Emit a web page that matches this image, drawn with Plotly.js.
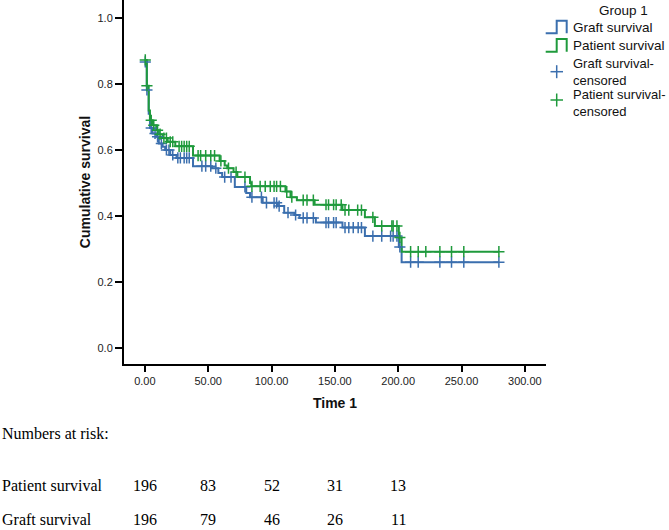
<!DOCTYPE html>
<html>
<head>
<meta charset="utf-8">
<script src="https://cdn.plot.ly/plotly-3.0.1.min.js"></script>
<style>
html,body{margin:0;padding:0;background:#fff;}
#chart{width:669px;height:530px;}
</style>
</head>
<body>
<div id="chart"></div>
<script>
// Kaplan-Meier step data (time, cumulative survival after the step)
var patientTimes = [0, 1.5, 3, 4, 6, 9, 11, 14, 18, 24, 38, 59, 63, 65, 70, 73, 83, 84, 111, 115, 120, 134, 156, 173.7, 181.6, 200.5, 202.7, 279.5];
var patientSurv  = [0.873, 0.795, 0.72, 0.69, 0.675, 0.66, 0.648, 0.636, 0.625, 0.611, 0.583, 0.567, 0.553, 0.545, 0.533, 0.518, 0.50, 0.49, 0.474, 0.457, 0.448, 0.434, 0.418, 0.396, 0.370, 0.335, 0.292, 0.292];

var graftTimes = [0, 1.5, 3, 4, 6, 9, 11, 14, 16, 20, 25, 38, 53, 58, 61, 71, 80, 83, 93, 105, 110, 118, 122, 135, 156, 173.7, 200.5, 202.7, 279.5];
var graftSurv  = [0.867, 0.782, 0.71, 0.667, 0.65, 0.64, 0.62, 0.61, 0.60, 0.585, 0.576, 0.551, 0.545, 0.53, 0.518, 0.488, 0.47, 0.457, 0.44, 0.43, 0.41, 0.403, 0.394, 0.38, 0.365, 0.339, 0.306, 0.26, 0.26];

// censored observation times
var patientCensor = [0.3, 1.6, 5, 7, 10, 12, 15, 17, 20, 22, 27, 29, 31, 33, 35, 42, 44, 48, 52, 55, 60, 66, 72, 79, 84.5, 91, 95, 99, 102, 104, 107, 112, 116, 125, 128, 133, 143, 145, 149, 151, 155, 158, 161, 168, 171, 180, 187, 195, 196, 199, 201.3, 209.8, 215.8, 221.8, 232.9, 242.1, 251.8, 279.5];
var graftCensor = [0.3, 1.6, 5, 8, 10, 13, 17, 19, 22, 26, 28, 31, 33, 35, 45, 48, 52, 56, 63, 68, 79, 84.5, 92, 96, 102, 104, 106, 113, 119, 125, 128, 133, 143, 145, 149, 151, 158, 161, 164.5, 168.4, 171, 180, 187, 194, 196, 199, 201.3, 209.8, 215.8, 232.9, 242.1, 251.8, 279.5];

// numbers at risk
var riskTimes = [0, 50, 100, 150, 200];
var riskPatient = [196, 83, 52, 31, 13];
var riskGraft = [196, 79, 46, 26, 11];

var xTicks = [0, 50, 100, 150, 200, 250, 300];
var yTicks = [0, 0.2, 0.4, 0.6, 0.8, 1.0];

var blue = '#3b6fae';
var green = '#1f9a3c';

function stepAt(times, surv, t) {
  var v = surv[0];
  for (var i = 0; i < times.length; i++) {
    if (times[i] <= t) v = surv[i]; else break;
  }
  return v;
}

var traces = [
  {x: graftTimes, y: graftSurv, type: 'scatter', mode: 'lines', line: {shape: 'hv', color: blue, width: 2}, hoverinfo: 'skip', showlegend: false},
  {x: patientTimes, y: patientSurv, type: 'scatter', mode: 'lines', line: {shape: 'hv', color: green, width: 2}, hoverinfo: 'skip', showlegend: false},
  {x: graftCensor, y: graftCensor.map(function(t){return stepAt(graftTimes, graftSurv, t);}), type: 'scatter', mode: 'markers',
   marker: {symbol: 'cross-thin', size: 8, color: blue, line: {width: 1.5, color: blue}}, hoverinfo: 'skip', showlegend: false},
  {x: patientCensor, y: patientCensor.map(function(t){return stepAt(patientTimes, patientSurv, t);}), type: 'scatter', mode: 'markers',
   marker: {symbol: 'cross-thin', size: 8, color: green, line: {width: 1.5, color: green}}, hoverinfo: 'skip', showlegend: false}
];

// plot area in pixels: x 124..546, y 0..364
function px(p) { return (p - 124) / 422; }
function py(p) { return (364 - p) / 364; }

var sans = 'Liberation Sans, Arial, sans-serif';
var serif = 'Liberation Serif, Times New Roman, serif';

var annotations = [
  {text: 'Group 1', x: px(623), y: py(10), xref: 'paper', yref: 'paper', xanchor: 'center', yanchor: 'middle', showarrow: false, font: {family: sans, size: 13.5, color: '#111'}},
  {text: 'Graft survival', x: px(571), y: py(27.3), xref: 'paper', yref: 'paper', xanchor: 'left', yanchor: 'middle', showarrow: false, font: {family: sans, size: 13.5, color: '#111'}},
  {text: 'Patient survival', x: px(571), y: py(45.7), xref: 'paper', yref: 'paper', xanchor: 'left', yanchor: 'middle', showarrow: false, font: {family: sans, size: 13.5, color: '#111'}},
  {text: 'Graft survival-<br>censored', x: px(571), y: py(72.5), xref: 'paper', yref: 'paper', xanchor: 'left', yanchor: 'middle', align: 'left', showarrow: false, font: {family: sans, size: 13, color: '#111'}},
  {text: 'Patient survival-<br>censored', x: px(571), y: py(103.3), xref: 'paper', yref: 'paper', xanchor: 'left', yanchor: 'middle', align: 'left', showarrow: false, font: {family: sans, size: 13, color: '#111'}},
  {text: 'Numbers at risk:', x: px(0), y: py(433), xref: 'paper', yref: 'paper', xanchor: 'left', yanchor: 'middle', showarrow: false, font: {family: serif, size: 16, color: '#000'}},
  {text: 'Patient survival', x: px(0), y: py(486), xref: 'paper', yref: 'paper', xanchor: 'left', yanchor: 'middle', showarrow: false, font: {family: serif, size: 16, color: '#000'}},
  {text: 'Graft survival', x: px(0), y: py(519), xref: 'paper', yref: 'paper', xanchor: 'left', yanchor: 'middle', showarrow: false, font: {family: serif, size: 16, color: '#000'}}
];
riskTimes.forEach(function(t, i) {
  annotations.push({text: String(riskPatient[i]), x: t, y: py(486), xref: 'x', yref: 'paper', xanchor: 'center', yanchor: 'middle', showarrow: false, font: {family: serif, size: 16, color: '#000'}});
  annotations.push({text: String(riskGraft[i]), x: t, y: py(519), xref: 'x', yref: 'paper', xanchor: 'center', yanchor: 'middle', showarrow: false, font: {family: serif, size: 16, color: '#000'}});
});

function stepIcon(yb, yt, color) {
  return {type: 'path', xref: 'paper', yref: 'paper',
    path: 'M ' + px(545.7) + ' ' + py(yb) + ' L ' + px(556.7) + ' ' + py(yb) + ' L ' + px(556.7) + ' ' + py(yt) +
          ' L ' + px(566.7) + ' ' + py(yt) + ' L ' + px(566.7) + ' ' + py(yb),
    line: {color: color, width: 2}};
}
function crossIcon(cy, color) {
  return [
    {type: 'line', xref: 'paper', yref: 'paper', x0: px(550.5), x1: px(563), y0: py(cy), y1: py(cy), line: {color: color, width: 1.5}},
    {type: 'line', xref: 'paper', yref: 'paper', x0: px(556.7), x1: px(556.7), y0: py(cy - 6.5), y1: py(cy + 6.5), line: {color: color, width: 1.5}}
  ];
}
var shapes = [stepIcon(33.3, 20.7, blue), stepIcon(51.7, 39, green)].concat(crossIcon(71.7, blue), crossIcon(100, green));

var layout = {
  width: 669, height: 530,
  margin: {l: 124, r: 123, t: 0, b: 166, pad: 0},
  paper_bgcolor: '#fff', plot_bgcolor: '#fff',
  showlegend: false,
  xaxis: {
    range: [-16.5, 316.7], tickvals: xTicks, tickformat: '.2f',
    showline: true, linecolor: '#000', linewidth: 2, mirror: false,
    ticks: 'outside', ticklen: 6, tickwidth: 2, tickcolor: '#000',
    showgrid: false, zeroline: false,
    tickfont: {family: sans, size: 11, color: '#222'},
    title: {text: '<b>Time 1</b>', font: {family: sans, size: 14, color: '#111'}, standoff: 12}
  },
  yaxis: {
    range: [-0.0485, 1.0545], tickvals: yTicks, tickformat: '.1f',
    showline: true, linecolor: '#000', linewidth: 2, mirror: false,
    ticks: 'outside', ticklen: 7, tickwidth: 2, tickcolor: '#000',
    showgrid: false, zeroline: false,
    tickfont: {family: sans, size: 11, color: '#222'},
    title: {text: '<b>Cumulative survival</b>', font: {family: sans, size: 14, color: '#111'}, standoff: 4}
  },
  annotations: annotations,
  shapes: shapes
};

Plotly.newPlot('chart', traces, layout, {staticPlot: true, displayModeBar: false});
</script>
</body>
</html>
